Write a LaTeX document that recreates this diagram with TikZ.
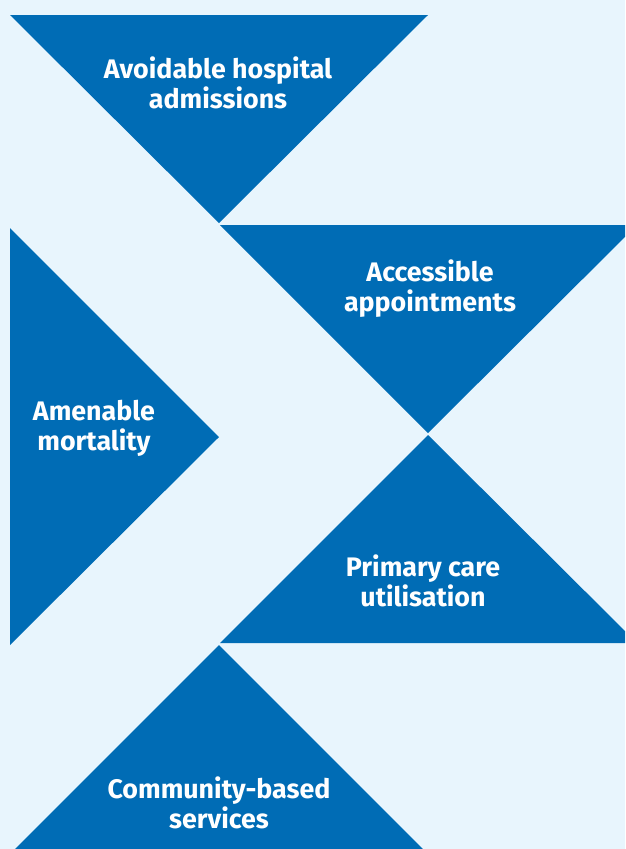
\documentclass[tikz,border=0pt]{standalone}
\usepackage{fontspec}
\setmainfont{Fira Sans}
\definecolor{bgblue}{RGB}{232,245,253}
\definecolor{triblue}{RGB}{0,108,181}
\begin{document}
\begin{tikzpicture}[x=1pt,y=-1pt,
  tri/.style={fill=triblue},
  lbl/.style={text=white,font=\fontsize{26.8}{30}\selectfont\bfseries,align=center,inner sep=0pt}]
\fill[bgblue] (0,0) rectangle (625,849);
\useasboundingbox (0,0) rectangle (625,849);
\begin{scope}
\clip (0,0) rectangle (625,849);
% triangle 1
\fill[tri] (10,15) -- (428,15) -- (219,223) -- cycle;
% triangle 2
\fill[tri] (220,225) -- (637,225) -- (428,433) -- cycle;
% triangle 3
\fill[tri] (10,228) -- (219,437) -- (10,645) -- cycle;
% triangle 4
\fill[tri] (428,435) -- (637,643) -- (220,643) -- cycle;
% triangle 5
\fill[tri] (219,645) -- (427,853) -- (11,853) -- cycle;
\end{scope}
\node[lbl] (t1) at (218,83) {Avoidable hospital\\admissions};
\node[lbl] (t2) at (430,289) {Accessible\\appointments};
\node[lbl] (t3) at (94,428) {Amenable\\mortality};
\node[lbl] (t4) at (423,581) {Primary care\\utilisation};
\node[lbl] (t5) at (219,803) {Community-based\\services};
\end{tikzpicture}
\end{document}
